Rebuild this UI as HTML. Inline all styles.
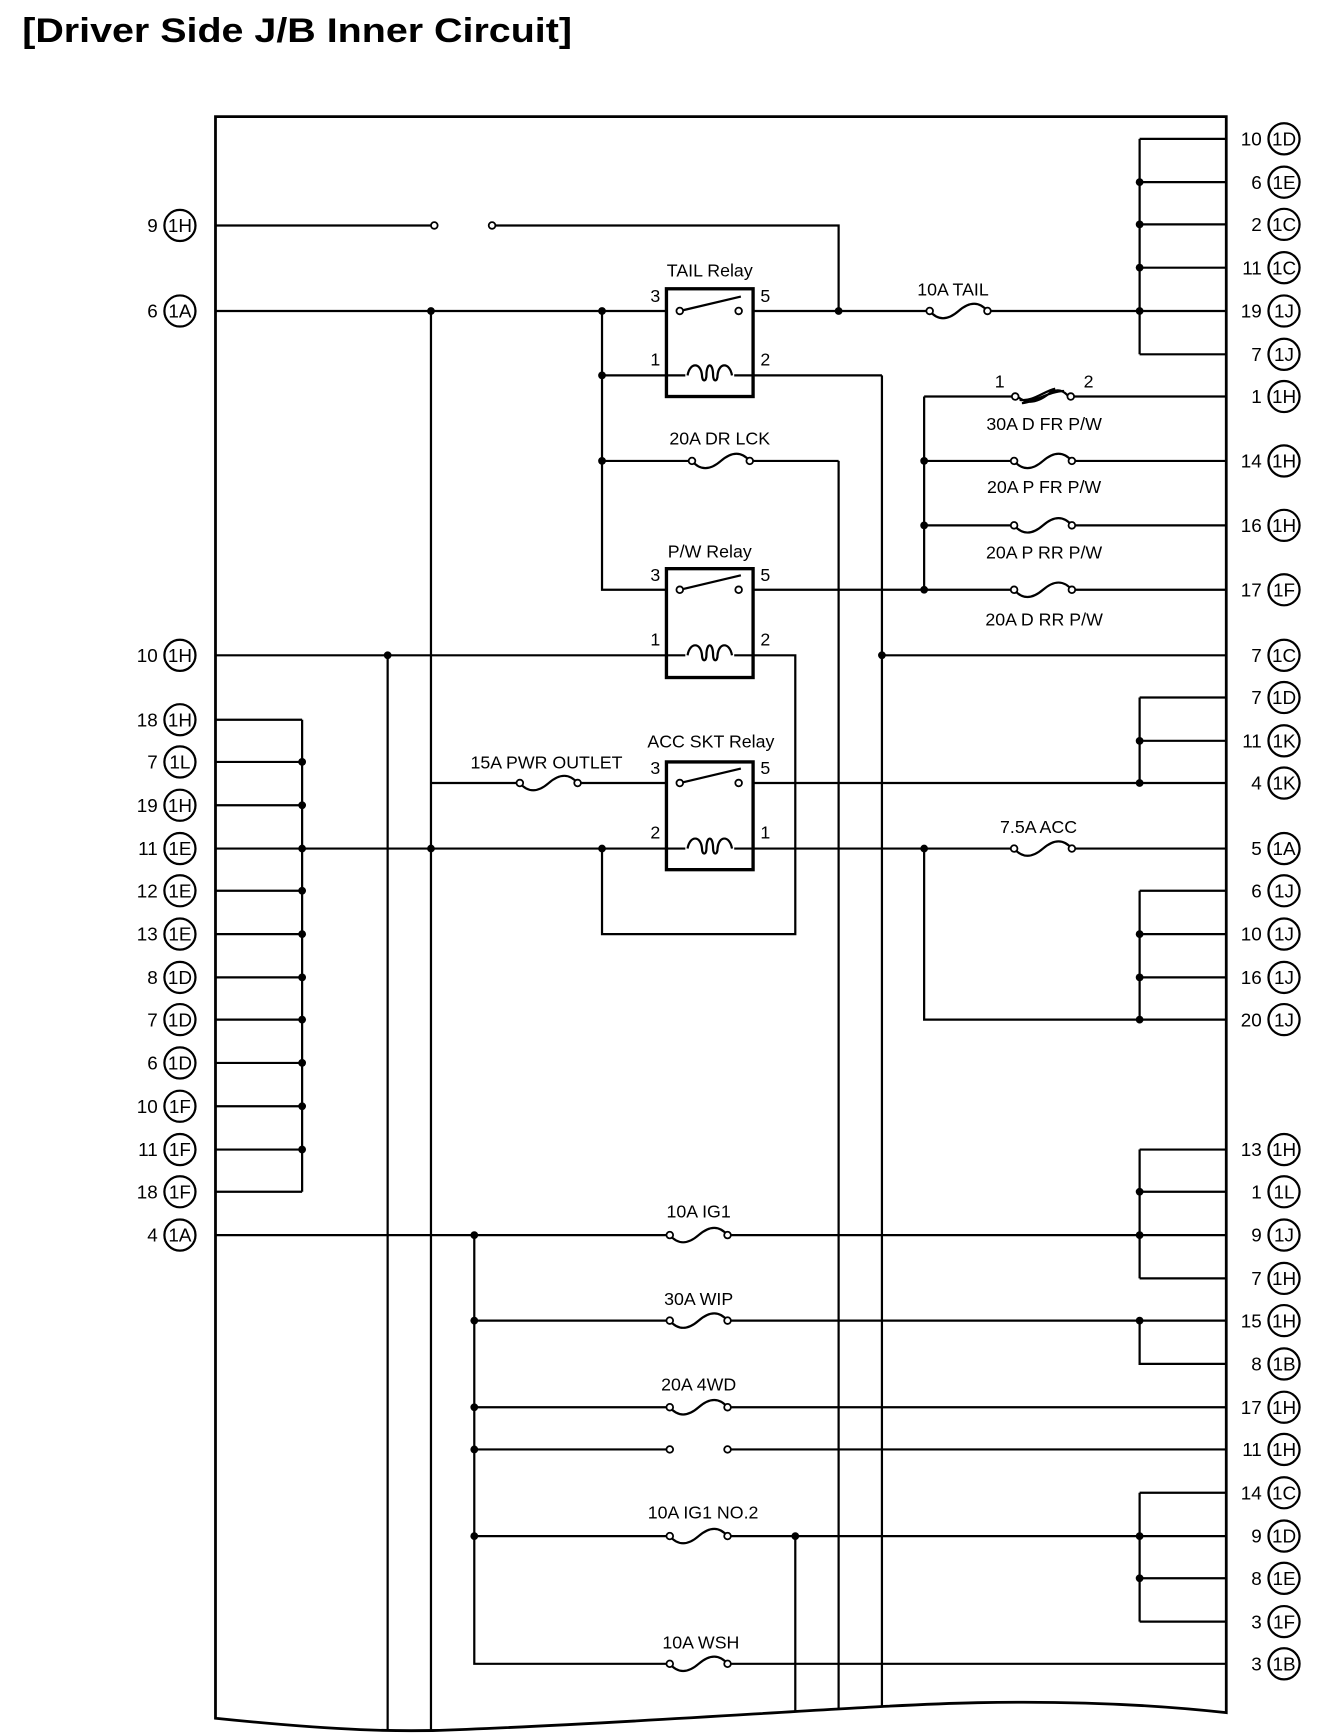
<!DOCTYPE html>
<html><head><meta charset="utf-8"><style>
html,body{margin:0;padding:0;background:#fff;}
svg{display:block;}
text{font-family:"Liberation Sans",sans-serif;fill:#000;}
</style></head><body>
<svg width="1344" height="1736" viewBox="0 0 1210 1563" preserveAspectRatio="none" xmlns="http://www.w3.org/2000/svg">
<defs>
<clipPath id="box"><path d="M194,105 H1104 V1542 C1050,1536 980,1531 880,1533 C780,1535 600,1550 420,1557 C360,1560 300,1558 194,1547 Z"/></clipPath>
<g id="fz"><rect x="2" y="-4" width="54" height="8" fill="#fff"/><path d="M3,0 Q14,13 29,0 Q44,-13 55,0" fill="none" stroke="#000" stroke-width="2"/><circle cx="3" cy="0" r="3" fill="#fff" stroke="#000" stroke-width="1.6"/><circle cx="55" cy="0" r="3" fill="#fff" stroke="#000" stroke-width="1.6"/></g>
<ellipse id="pl" cx="0" cy="0" rx="14" ry="14" fill="#fff" stroke="#000" stroke-width="2"/>
<g id="coil"><rect x="-22" y="-6" width="44" height="12" fill="#fff"/><path d="M-20,0 C-18,-12 -8,-12 -7,0 C-7,6 -3,6 -3,0 C-3,-12 3,-12 3,0 C3,6 7,6 7,0 C8,-12 18,-12 20,0" fill="none" stroke="#000" stroke-width="2"/></g>
</defs>
<text x="20" y="38" font-size="31" font-weight="bold" textLength="495" lengthAdjust="spacingAndGlyphs">[Driver Side J/B Inner Circuit]</text>

<g clip-path="url(#box)" stroke="#000" stroke-width="2" fill="none">
<path d="M349,590 V1570 M388,280 V1570 M716,1383 V1570 M755,415 V1570 M794,338 V1570"/>
</g>
<path d="M194,105 H1104 V1542 C1050,1536 980,1531 880,1533 C780,1535 600,1550 420,1557 C360,1560 300,1558 194,1547 Z" fill="none" stroke="#000" stroke-width="2.5"/>

<g stroke="#000" stroke-width="2" fill="none">
<!-- right top group -->
<path d="M1026,125 V319 M1026,125 H1104 M1026,164 H1104 M1026,202 H1104 M1026,241 H1104 M1026,319 H1104"/>
<path d="M194,203 H389 M445,203 H755 V280"/>
<path d="M194,280 H600 M678,280 H1104"/>
<path d="M542,280 V531 H600 M542,338 H600 M678,338 H794 M542,415 H755"/>
<path d="M832,357 V531 M832,357 H1104 M832,415 H1104 M832,473 H1104 M678,531 H1104"/>
<path d="M194,590 H600 M678,590 H716 V841 H542 V764 M794,590 H1104"/>
<path d="M1026,628 V705 M1026,628 H1104 M1026,667 H1104 M388,705 H600 M678,705 H1104"/>
<path d="M194,764 H600 M678,764 H1104 M832,764 V918 H1104 M1026,802 V918 M1026,802 H1104 M1026,841 H1104 M1026,880 H1104"/>
<path d="M272,648 V1073 M194,648 H272 M194,686 H272 M194,725 H272 M194,802 H272 M194,841 H272 M194,880 H272 M194,918 H272 M194,957 H272 M194,996 H272 M194,1035 H272 M194,1073 H272"/>
<path d="M194,1112 H1104 M427,1112 V1498 H1104 M1026,1035 V1151 M1026,1035 H1104 M1026,1073 H1104 M1026,1151 H1104"/>
<path d="M427,1189 H1104 M1026,1189 V1228 H1104 M427,1267 H1104 M427,1305 H601 M657,1305 H1104 M427,1383 H1104"/>
<path d="M1026,1344 V1460 M1026,1344 H1104 M1026,1421 H1104 M1026,1460 H1104"/>
</g>

<!-- open switch circles -->
<g fill="#fff" stroke="#000" stroke-width="1.6">
<circle cx="391" cy="203" r="3"/><circle cx="443" cy="203" r="3"/>
<circle cx="603" cy="1305" r="3"/><circle cx="655" cy="1305" r="3"/>
</g>

<!-- relays -->
<g stroke="#000" stroke-width="3" fill="#fff">
<rect x="600" y="260" width="78" height="97"/>
<rect x="600" y="512" width="78" height="98"/>
<rect x="600" y="686" width="78" height="97"/>
</g>
<g stroke="#000" stroke-width="2" fill="none">
<path d="M612,280 L667,267 M612,531 L667,518 M612,705 L667,692"/>
<path d="M600,338 H678 M600,590 H678 M600,764 H678"/>
</g>
<g fill="#fff" stroke="#000" stroke-width="1.6">
<circle cx="612" cy="280" r="3"/><circle cx="665" cy="280" r="3"/>
<circle cx="612" cy="531" r="3"/><circle cx="665" cy="531" r="3"/>
<circle cx="612" cy="705" r="3"/><circle cx="665" cy="705" r="3"/>
</g>
<use href="#coil" x="639" y="338"/><use href="#coil" x="639" y="590"/><use href="#coil" x="639" y="764"/>

<!-- fuses -->
<use href="#fz" x="834" y="280"/>
<use href="#fz" x="620" y="415"/>
<use href="#fz" x="910" y="415"/>
<use href="#fz" x="910" y="473"/>
<use href="#fz" x="910" y="531"/>
<use href="#fz" x="465" y="705"/>
<use href="#fz" x="910" y="764"/>
<use href="#fz" x="600" y="1112"/>
<use href="#fz" x="600" y="1189"/>
<use href="#fz" x="600" y="1267"/>
<use href="#fz" x="600" y="1383"/>
<use href="#fz" x="600" y="1498"/>
<!-- 30A special fuse -->
<rect x="914" y="350" width="50" height="14" fill="#fff"/>
<path d="M916,357 C925,365 935,362 945,354 C952,349 958,352 962,357 M918,360 C930,362 940,352 950,350 M920,363 C932,362 945,352 958,352" fill="none" stroke="#000" stroke-width="2"/>
<circle cx="914" cy="357" r="3" fill="#fff" stroke="#000" stroke-width="1.6"/><circle cx="964" cy="357" r="3" fill="#fff" stroke="#000" stroke-width="1.6"/>

<!-- dots -->
<g fill="#000">
<circle cx="1026" cy="164" r="3.5"/><circle cx="1026" cy="202" r="3.5"/><circle cx="1026" cy="241" r="3.5"/><circle cx="1026" cy="280" r="3.5"/>
<circle cx="388" cy="280" r="3.5"/><circle cx="542" cy="280" r="3.5"/><circle cx="755" cy="280" r="3.5"/>
<circle cx="542" cy="338" r="3.5"/><circle cx="542" cy="415" r="3.5"/>
<circle cx="832" cy="415" r="3.5"/><circle cx="832" cy="473" r="3.5"/><circle cx="832" cy="531" r="3.5"/>
<circle cx="349" cy="590" r="3.5"/><circle cx="794" cy="590" r="3.5"/>
<circle cx="1026" cy="667" r="3.5"/><circle cx="1026" cy="705" r="3.5"/>
<circle cx="272" cy="686" r="3.5"/><circle cx="272" cy="725" r="3.5"/><circle cx="272" cy="764" r="3.5"/><circle cx="272" cy="802" r="3.5"/><circle cx="272" cy="841" r="3.5"/><circle cx="272" cy="880" r="3.5"/><circle cx="272" cy="918" r="3.5"/><circle cx="272" cy="957" r="3.5"/><circle cx="272" cy="996" r="3.5"/><circle cx="272" cy="1035" r="3.5"/>
<circle cx="388" cy="764" r="3.5"/><circle cx="542" cy="764" r="3.5"/><circle cx="832" cy="764" r="3.5"/>
<circle cx="1026" cy="841" r="3.5"/><circle cx="1026" cy="880" r="3.5"/><circle cx="1026" cy="918" r="3.5"/>
<circle cx="427" cy="1112" r="3.5"/><circle cx="1026" cy="1073" r="3.5"/><circle cx="1026" cy="1112" r="3.5"/>
<circle cx="427" cy="1189" r="3.5"/><circle cx="1026" cy="1189" r="3.5"/>
<circle cx="427" cy="1267" r="3.5"/><circle cx="427" cy="1305" r="3.5"/>
<circle cx="427" cy="1383" r="3.5"/><circle cx="716" cy="1383" r="3.5"/><circle cx="1026" cy="1383" r="3.5"/><circle cx="1026" cy="1421" r="3.5"/>
</g>

<!-- labels -->
<g font-size="16" text-anchor="middle">
<text x="639" y="249">TAIL Relay</text>
<text x="858" y="266">10A TAIL</text>
<text x="648" y="400">20A DR LCK</text>
<text x="639" y="502">P/W Relay</text>
<text x="640" y="673">ACC SKT Relay</text>
<text x="492" y="692">15A PWR OUTLET</text>
<text x="935" y="750">7.5A ACC</text>
<text x="940" y="387">30A D FR P/W</text>
<text x="940" y="444">20A P FR P/W</text>
<text x="940" y="503">20A P RR P/W</text>
<text x="940" y="563">20A D RR P/W</text>
<text x="629" y="1096">10A IG1</text>
<text x="629" y="1175">30A WIP</text>
<text x="629" y="1252">20A 4WD</text>
<text x="633" y="1367">10A IG1 NO.2</text>
<text x="631" y="1484">10A WSH</text>
<text x="900" y="349">1</text><text x="980" y="349">2</text>
<text x="590" y="272">3</text><text x="689" y="272">5</text><text x="590" y="329">1</text><text x="689" y="329">2</text>
<text x="590" y="523">3</text><text x="689" y="523">5</text><text x="590" y="581">1</text><text x="689" y="581">2</text>
<text x="590" y="697">3</text><text x="689" y="697">5</text><text x="590" y="755">2</text><text x="689" y="755">1</text>
</g>

<!-- left connectors -->
<g>
<use href="#pl" x="162" y="203"/><use href="#pl" x="162" y="280"/><use href="#pl" x="162" y="590"/><use href="#pl" x="162" y="648"/><use href="#pl" x="162" y="686"/><use href="#pl" x="162" y="725"/><use href="#pl" x="162" y="764"/><use href="#pl" x="162" y="802"/><use href="#pl" x="162" y="841"/><use href="#pl" x="162" y="880"/><use href="#pl" x="162" y="918"/><use href="#pl" x="162" y="957"/><use href="#pl" x="162" y="996"/><use href="#pl" x="162" y="1035"/><use href="#pl" x="162" y="1073"/><use href="#pl" x="162" y="1112"/>
</g>
<g font-size="17" text-anchor="middle">
<text x="162" y="209">1H</text><text x="162" y="286">1A</text><text x="162" y="596">1H</text><text x="162" y="654">1H</text><text x="162" y="692">1L</text><text x="162" y="731">1H</text><text x="162" y="770">1E</text><text x="162" y="808">1E</text><text x="162" y="847">1E</text><text x="162" y="886">1D</text><text x="162" y="924">1D</text><text x="162" y="963">1D</text><text x="162" y="1002">1F</text><text x="162" y="1041">1F</text><text x="162" y="1079">1F</text><text x="162" y="1118">1A</text>
</g>
<g font-size="17" text-anchor="end">
<text x="142" y="209">9</text><text x="142" y="286">6</text><text x="142" y="596">10</text><text x="142" y="654">18</text><text x="142" y="692">7</text><text x="142" y="731">19</text><text x="142" y="770">11</text><text x="142" y="808">12</text><text x="142" y="847">13</text><text x="142" y="886">8</text><text x="142" y="924">7</text><text x="142" y="963">6</text><text x="142" y="1002">10</text><text x="142" y="1041">11</text><text x="142" y="1079">18</text><text x="142" y="1118">4</text>
</g>

<!-- right connectors -->
<g>
<use href="#pl" x="1156" y="125"/><use href="#pl" x="1156" y="164"/><use href="#pl" x="1156" y="202"/><use href="#pl" x="1156" y="241"/><use href="#pl" x="1156" y="280"/><use href="#pl" x="1156" y="319"/><use href="#pl" x="1156" y="357"/><use href="#pl" x="1156" y="415"/><use href="#pl" x="1156" y="473"/><use href="#pl" x="1156" y="531"/><use href="#pl" x="1156" y="590"/><use href="#pl" x="1156" y="628"/><use href="#pl" x="1156" y="667"/><use href="#pl" x="1156" y="705"/><use href="#pl" x="1156" y="764"/><use href="#pl" x="1156" y="802"/><use href="#pl" x="1156" y="841"/><use href="#pl" x="1156" y="880"/><use href="#pl" x="1156" y="918"/><use href="#pl" x="1156" y="1035"/><use href="#pl" x="1156" y="1073"/><use href="#pl" x="1156" y="1112"/><use href="#pl" x="1156" y="1151"/><use href="#pl" x="1156" y="1189"/><use href="#pl" x="1156" y="1228"/><use href="#pl" x="1156" y="1267"/><use href="#pl" x="1156" y="1305"/><use href="#pl" x="1156" y="1344"/><use href="#pl" x="1156" y="1383"/><use href="#pl" x="1156" y="1421"/><use href="#pl" x="1156" y="1460"/><use href="#pl" x="1156" y="1498"/>
</g>
<g font-size="17" text-anchor="middle">
<text x="1156" y="131">1D</text><text x="1156" y="170">1E</text><text x="1156" y="208">1C</text><text x="1156" y="247">1C</text><text x="1156" y="286">1J</text><text x="1156" y="325">1J</text><text x="1156" y="363">1H</text><text x="1156" y="421">1H</text><text x="1156" y="479">1H</text><text x="1156" y="537">1F</text><text x="1156" y="596">1C</text><text x="1156" y="634">1D</text><text x="1156" y="673">1K</text><text x="1156" y="711">1K</text><text x="1156" y="770">1A</text><text x="1156" y="808">1J</text><text x="1156" y="847">1J</text><text x="1156" y="886">1J</text><text x="1156" y="924">1J</text><text x="1156" y="1041">1H</text><text x="1156" y="1079">1L</text><text x="1156" y="1118">1J</text><text x="1156" y="1157">1H</text><text x="1156" y="1195">1H</text><text x="1156" y="1234">1B</text><text x="1156" y="1273">1H</text><text x="1156" y="1311">1H</text><text x="1156" y="1350">1C</text><text x="1156" y="1389">1D</text><text x="1156" y="1427">1E</text><text x="1156" y="1466">1F</text><text x="1156" y="1504">1B</text>
</g>
<g font-size="17" text-anchor="end">
<text x="1136" y="131">10</text><text x="1136" y="170">6</text><text x="1136" y="208">2</text><text x="1136" y="247">11</text><text x="1136" y="286">19</text><text x="1136" y="325">7</text><text x="1136" y="363">1</text><text x="1136" y="421">14</text><text x="1136" y="479">16</text><text x="1136" y="537">17</text><text x="1136" y="596">7</text><text x="1136" y="634">7</text><text x="1136" y="673">11</text><text x="1136" y="711">4</text><text x="1136" y="770">5</text><text x="1136" y="808">6</text><text x="1136" y="847">10</text><text x="1136" y="886">16</text><text x="1136" y="924">20</text><text x="1136" y="1041">13</text><text x="1136" y="1079">1</text><text x="1136" y="1118">9</text><text x="1136" y="1157">7</text><text x="1136" y="1195">15</text><text x="1136" y="1234">8</text><text x="1136" y="1273">17</text><text x="1136" y="1311">11</text><text x="1136" y="1350">14</text><text x="1136" y="1389">9</text><text x="1136" y="1427">8</text><text x="1136" y="1466">3</text><text x="1136" y="1504">3</text>
</g>
</svg>
</body></html>
